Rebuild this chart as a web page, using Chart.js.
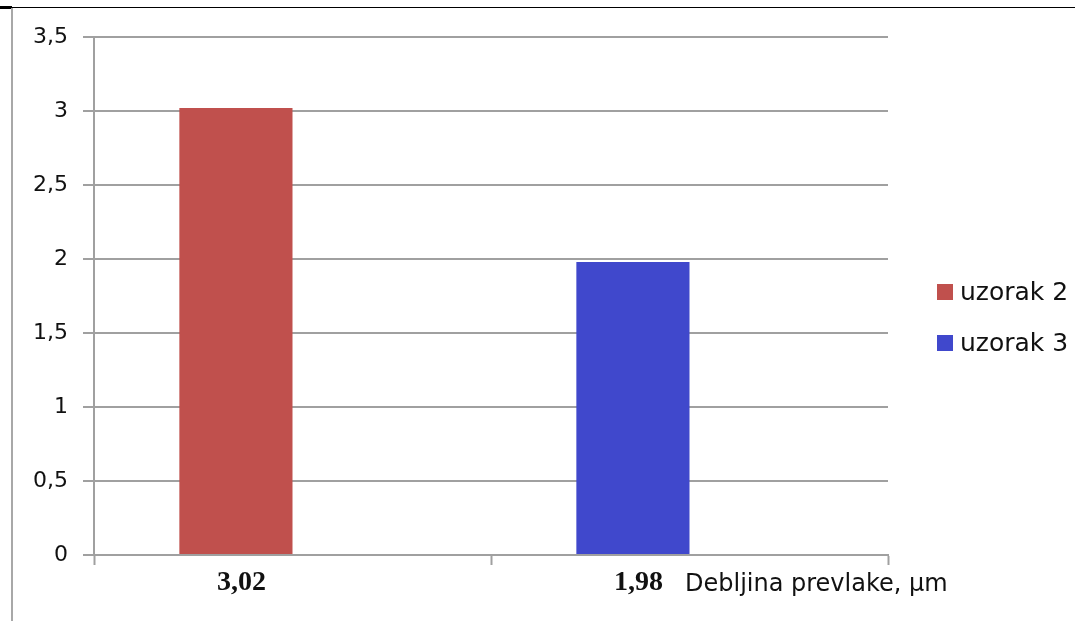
<!DOCTYPE html>
<html>
<head>
<meta charset="utf-8">
<script src="https://cdn.jsdelivr.net/npm/chart.js@4.4.1/dist/chart.umd.min.js"></script>
<style>
    html, body { margin: 0; padding: 0; background: #fff; }
    #wrap { position: relative; width: 1075px; height: 621px; overflow: hidden; }
    #chart { position: absolute; left: 0; top: 0; }
    .frame-top { position: absolute; left: 0; top: 7px; width: 1075px; height: 1px; background: #000; }
    .frame-corner { position: absolute; left: 0; top: 6px; width: 12px; height: 3px; background: #000; }
    .frame-left { position: absolute; left: 11px; top: 8px; width: 2px; height: 613px; background: #a8a8a8; }
    #legend { position: absolute; left: 937px; top: 266px; font-family: "DejaVu Sans", sans-serif; font-size: 25px; color: #111; }
    #legend .item { display: flex; align-items: center; height: 51px; white-space: nowrap; }
    #legend .box { width: 16px; height: 16px; margin-right: 7px; }
</style>
</head>
<body>
<div id="wrap">
    <canvas id="chart" width="1075" height="621"></canvas>
    <div class="frame-top"></div>
    <div class="frame-corner"></div>
    <div class="frame-left"></div>
    <div id="legend"></div>
</div>
<script>
// data
const categories = ['3,02', '1,98'];
const seriesNames = ['uzorak 2', 'uzorak 3'];
const uzorak2 = [3.02, null];
const uzorak3 = [null, 1.98];
const yTicks = { min: 0, max: 3.5, step: 0.5 };
const axisTitle = 'Debljina prevlake, \u00b5m';

const colors = ['#C0504D', '#4048CC'];
const gridColor = '#a0a0a0';

// html legend, built from the chart's own legend items
const htmlLegend = {
    id: 'htmlLegend',
    afterUpdate(chart) {
        const box = document.getElementById('legend');
        box.innerHTML = '';
        const items = chart.options.plugins.legend.labels.generateLabels(chart)
            .filter(it => it.text);
        items.forEach(it => {
            const row = document.createElement('div');
            row.className = 'item';
            const sw = document.createElement('span');
            sw.className = 'box';
            sw.style.background = it.fillStyle;
            const txt = document.createElement('span');
            txt.textContent = it.text;
            row.appendChild(sw);
            row.appendChild(txt);
            box.appendChild(row);
        });
    }
};

// axis title sits on the tick label line, right of the last label
const sideTitle = {
    id: 'sideTitle',
    afterDraw(chart) {
        const ctx = chart.ctx;
        const area = chart.chartArea;
        ctx.save();
        ctx.font = '24px "DejaVu Sans"';
        ctx.fillStyle = '#111';
        ctx.textAlign = 'left';
        ctx.textBaseline = 'alphabetic';
        ctx.fillText(axisTitle, area.right - 203, area.bottom + 36);
        ctx.restore();
    }
};

new Chart(document.getElementById('chart'), {
    type: 'bar',
    data: {
        labels: categories,
        datasets: [
            { label: seriesNames[0], data: uzorak2, backgroundColor: colors[0], stack: 'a' },
            { label: seriesNames[1], data: uzorak3, backgroundColor: colors[1], stack: 'a' },
            // empty second slot, as in the original grouping
            { label: '', data: [null, null], backgroundColor: 'transparent', stack: 'b' }
        ]
    },
    options: {
        responsive: false,
        animation: false,
        devicePixelRatio: 1,
        categoryPercentage: 0.57,
        barPercentage: 1.0,
        layout: { padding: { left: 12, right: 187, top: 37, bottom: 0 } },
        plugins: {
            legend: { display: false },
            tooltip: { enabled: false }
        },
        scales: {
            x: {
                stacked: true,
                afterFit: s => { s.height = 66; },
                grid: {
                    drawOnChartArea: false,
                    drawTicks: true,
                    tickLength: 10,
                    tickColor: gridColor,
                    tickWidth: 2
                },
                border: { color: gridColor, width: 2 },
                ticks: {
                    labelOffset: -51,
                    padding: 1,
                    color: '#111',
                    font: { family: '"Liberation Serif"', size: 28, weight: 'bold' }
                }
            },
            y: {
                stacked: true,
                min: yTicks.min,
                max: yTicks.max,
                afterFit: s => { s.width = 82; },
                grid: {
                    color: gridColor,
                    lineWidth: 2,
                    tickLength: 11,
                    tickColor: gridColor,
                    tickWidth: 2
                },
                border: { color: gridColor, width: 2 },
                ticks: {
                    stepSize: yTicks.step,
                    padding: 15,
                    color: '#111',
                    font: { family: '"DejaVu Sans"', size: 22 },
                    callback: v => String(v).replace('.', ',')
                }
            }
        }
    },
    plugins: [htmlLegend, sideTitle]
});
</script>
</body>
</html>
